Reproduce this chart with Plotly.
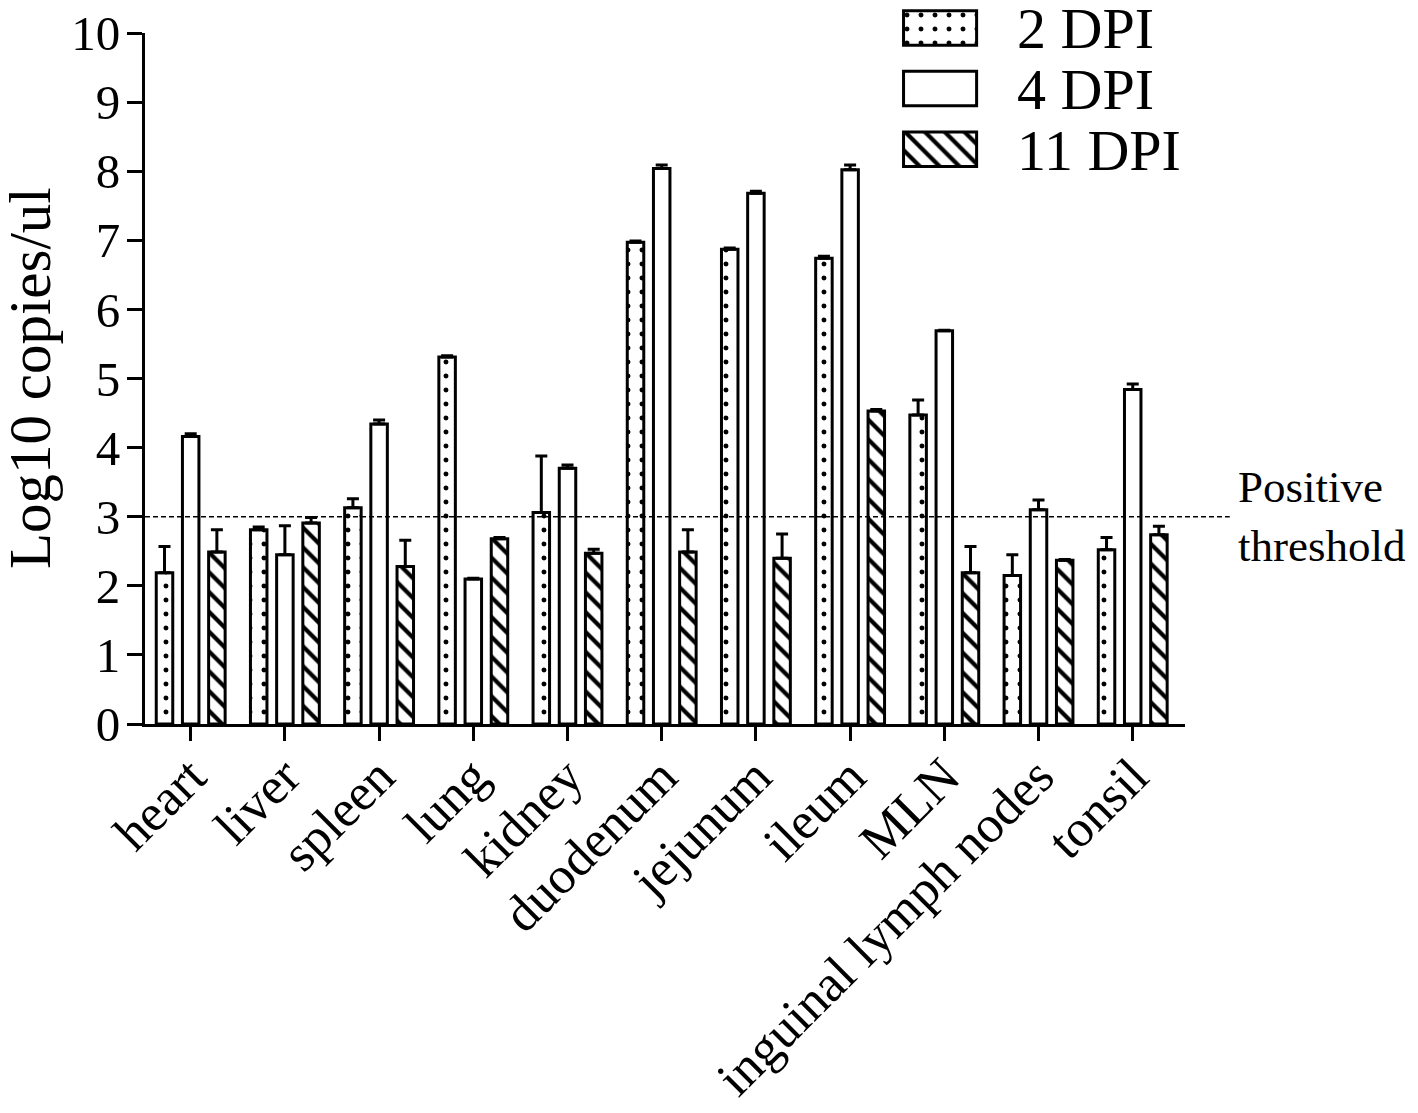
import plotly.graph_objects as go

# tissues on the x axis
tissues = ["heart", "liver", "spleen", "lung", "kidney", "duodenum",
           "jejunum", "ileum", "MLN", "inguinal lymph nodes", "tonsil"]

series_names = ["2 DPI", "4 DPI", "11 DPI"]

# mean log10 copies/ul
dpi2 = [2.19, 2.81, 3.13, 5.31, 3.06, 6.97, 6.87, 6.74, 4.47, 2.15, 2.52]
dpi4 = [4.16, 2.45, 4.34, 2.10, 3.70, 8.04, 7.68, 8.02, 5.69, 3.10, 4.84]
dpi11 = [2.49, 2.91, 2.28, 2.68, 2.47, 2.49, 2.40, 4.53, 2.19, 2.37, 2.74]

# upper error bars (SD)
sd2 = [0.38, 0.04, 0.13, 0.02, 0.82, 0.02, 0.02, 0.03, 0.22, 0.30, 0.18]
sd4 = [0.04, 0.42, 0.06, 0.01, 0.05, 0.05, 0.03, 0.07, 0.01, 0.14, 0.08]
sd11 = [0.32, 0.08, 0.38, 0.02, 0.06, 0.32, 0.35, 0.02, 0.38, 0.01, 0.12]

threshold = 3
y_ticks = list(range(0, 11))

FONT = "Liberation Serif"

# pattern per series: dots, empty, back-slash hatch
patterns = [
    dict(shape=".", size=14, solidity=0.1, fgcolor="black", bgcolor="white", fgopacity=1),
    dict(shape="", fgcolor="black", bgcolor="white"),
    dict(shape="\\", size=14, solidity=0.3, fgcolor="black", bgcolor="white", fgopacity=1),
]

fig = go.Figure()

for name, vals, sd, pat in zip(series_names, [dpi2, dpi4, dpi11], [sd2, sd4, sd11], patterns):
    fig.add_trace(go.Bar(
        x=tissues,
        y=vals,
        name=name,
        marker=dict(color="white", line=dict(color="black", width=3), pattern=pat),
        error_y=dict(type="data", array=sd, arrayminus=[0] * len(sd), symmetric=False,
                     color="black", thickness=3, width=6),
        showlegend=False,
    ))

# big legend swatches drawn as a small horizontal-bar subplot
for name, pat in zip(series_names, patterns):
    fig.add_trace(go.Bar(
        x=[1], y=[name], orientation="h",
        xaxis="x2", yaxis="y2",
        width=0.57, offset=-0.285, offsetgroup="legend",
        marker=dict(color="white", line=dict(color="black", width=3), pattern=pat),
        showlegend=False, hoverinfo="skip",
    ))

# positive threshold line
fig.add_shape(type="line", xref="paper", yref="y", x0=0, x1=1.043, y0=threshold, y1=threshold,
              line=dict(color="black", width=1.5, dash="5px,3px"))
fig.add_annotation(text="Positive<br>threshold", xref="paper", yref="y", x=1.049, y=threshold,
                   xanchor="left", yanchor="middle", align="left", showarrow=False,
                   font=dict(family=FONT, size=45, color="black"))

# y axis title as an annotation so it can sit close to the left edge
fig.add_annotation(text="Log10 copies/ul", textangle=-90, xref="paper", yref="y domain",
                   x=-0.111, y=0.5, xanchor="center", yanchor="middle", showarrow=False,
                   font=dict(family=FONT, size=59, color="black"))

# page body has an 8px margin, so the figure is a little smaller than the window
fig.update_layout(
    width=1410, height=1105,
    margin=dict(l=137, r=233, t=0, b=389),
    barmode="group",
    bargap=0.166,
    bargroupgap=0.37,
    plot_bgcolor="white",
    paper_bgcolor="white",
    font=dict(family=FONT, color="black"),
    xaxis=dict(
        type="category",
        range=[-0.485, 10.555],
        automargin=False,
        showline=True, linecolor="black", linewidth=3,
        ticks="outside", ticklen=14, tickwidth=3, tickcolor="black",
        tickangle=-45, tickfont=dict(family=FONT, size=52, color="black"),
        ticklabelstandoff=-16,
        showgrid=False, zeroline=False,
    ),
    yaxis=dict(
        domain=[0, 691 / 716],
        range=[0, 10],
        tickvals=y_ticks,
        automargin=False,
        showline=True, linecolor="black", linewidth=3,
        ticks="outside", ticklen=15, tickwidth=3, tickcolor="black",
        tickfont=dict(family=FONT, size=49, color="black"),
        ticklabeloverflow="allow",
        ticklabelstandoff=-3,
        showgrid=False, zeroline=False,
    ),
    xaxis2=dict(
        domain=[0.726, 0.803], anchor="y2",
        range=[-0.048, 1.048],
        automargin=False,
        visible=False,
    ),
    yaxis2=dict(
        domain=[0.7598, 1], anchor="x2",
        type="category",
        range=[2.508, -0.33],
        side="right",
        automargin=False,
        tickmode="array", tickvals=series_names, ticktext=series_names,
        showline=False, ticks="", showgrid=False, zeroline=False,
        ticklabelstandoff=36,
        tickfont=dict(family=FONT, size=58, color="black"),
    ),
)

fig.write_html("out.html")
